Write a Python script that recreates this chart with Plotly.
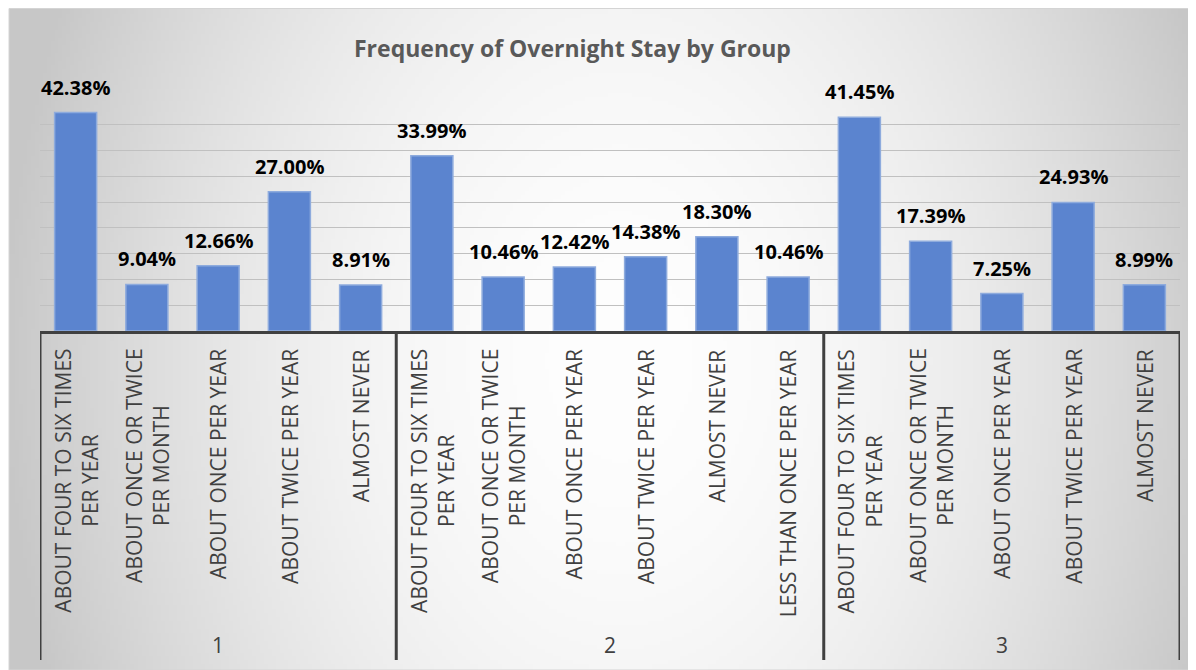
import base64
import struct
import zlib

import numpy as np
import plotly.graph_objects as go

groups = ["1", "2", "3"]
group_categories = [
    ["ABOUT FOUR TO SIX TIMES<br>PER YEAR", "ABOUT ONCE OR TWICE<br>PER MONTH",
     "ABOUT ONCE PER YEAR", "ABOUT TWICE PER YEAR", "ALMOST NEVER"],
    ["ABOUT FOUR TO SIX TIMES<br>PER YEAR", "ABOUT ONCE OR TWICE<br>PER MONTH",
     "ABOUT ONCE PER YEAR", "ABOUT TWICE PER YEAR", "ALMOST NEVER",
     "LESS THAN ONCE PER YEAR"],
    ["ABOUT FOUR TO SIX TIMES<br>PER YEAR", "ABOUT ONCE OR TWICE<br>PER MONTH",
     "ABOUT ONCE PER YEAR", "ABOUT TWICE PER YEAR", "ALMOST NEVER"],
]
group_values = [
    [42.38, 9.04, 12.66, 27.00, 8.91],
    [33.99, 10.46, 12.42, 14.38, 18.30, 10.46],
    [41.45, 17.39, 7.25, 24.93, 8.99],
]

# the page has an 8px body margin, so the figure is 8px smaller than the window
OFF = 8
W, H = 1188, 662
L, R, T, B = 32, 16, 91, 339
PH = H - T - B
PW = W - L - R


def py(y):
    # page pixel row -> paper y
    return (H - B - (y - OFF)) / PH


def px(x):
    return (x - OFF - L) / PW


def gray_png(arr):
    h, w = arr.shape
    raw = b"".join(b"\x00" + arr[r].tobytes() for r in range(h))

    def chunk(tag, data):
        c = struct.pack(">I", len(data)) + tag + data
        return c + struct.pack(">I", zlib.crc32(tag + data) & 0xffffffff)

    png = b"\x89PNG\r\n\x1a\n"
    png += chunk(b"IHDR", struct.pack(">IIBBBBB", w, h, 8, 0, 0, 0, 0))
    png += chunk(b"IDAT", zlib.compress(raw, 9))
    png += chunk(b"IEND", b"")
    return "data:image/png;base64," + base64.b64encode(png).decode()


# radial background of the chart frame (page coords)
fx0, fy0, fx1, fy1 = 9, 8, 1196, 670
gw, gh = 300, 168
xs = fx0 + (np.arange(gw) + 0.5) * (fx1 - fx0) / gw
ys = fy0 + (np.arange(gh) + 0.5) * (fy1 - fy0) / gh
XX, YY = np.meshgrid(xs, ys)
d = np.clip(np.hypot((XX - 620) / 620, (YY - 360) / 860), 0, 1)
bg = (254 - (254 - 199) * d ** 1.9).astype(np.uint8)

labels, values, centers = [], [], []
i = 0
for cats, vals in zip(group_categories, group_values):
    start = i
    for c, v in zip(cats, vals):
        labels.append(c)
        values.append(v)
        i += 1
    centers.append((start + i - 1) / 2)
xi = list(range(len(values)))

fig = go.Figure()
fig.add_trace(go.Bar(
    x=xi, y=values,
    marker=dict(color="#5b84cf", line=dict(color="#8eabdd", width=1.5)),
    hoverinfo="y",
))

ann = []
for x, v in zip(xi, values):
    ann.append(dict(x=x, y=v, xref="x", yref="y", text="{:.2f}%".format(v),
                    showarrow=False, yanchor="bottom", yshift=10,
                    font=dict(family="Open Sans", size=20, color="#000000",
                              weight="bold")))
for x, c in zip(xi, labels):
    ann.append(dict(x=x, y=py(347), xref="x", yref="paper", text=c,
                    showarrow=False, textangle=-90, yanchor="top",
                    align="center",
                    font=dict(family="Open Sans", size=21, color="#404040")))
for x, g in zip(centers, groups):
    ann.append(dict(x=x, y=py(645), xref="x", yref="paper", text=g,
                    showarrow=False, yanchor="middle",
                    font=dict(family="Open Sans", size=21, color="#404040")))
ann.append(dict(x=px(572), y=py(48), xref="paper", yref="paper",
                text="<b>Frequency of Overnight Stay by Group</b>",
                showarrow=False, yanchor="middle",
                font=dict(family="Open Sans", size=23, color="#595959")))

shapes = [dict(type="rect", xref="paper", yref="paper",
               x0=px(fx0), x1=px(fx1 - 0.5), y0=py(fy1), y1=py(fy0 + 0.5),
               line=dict(color="#d4d4d4", width=1), layer="below")]
seps = [-0.5]
n = 0
for vals in group_values:
    n += len(vals)
    seps.append(n - 0.5)
for s in seps:
    shapes.append(dict(type="line", xref="x", yref="paper", x0=s, x1=s,
                       y0=0, y1=py(660), line=dict(color="#404040", width=3)))

fig.update_layout(
    width=W, height=H,
    margin=dict(l=L, r=R, t=T, b=B),
    paper_bgcolor="white",
    plot_bgcolor="rgba(0,0,0,0)",
    bargap=0.41,
    showlegend=False,
    annotations=ann,
    shapes=shapes,
    images=[dict(source=gray_png(bg), xref="paper", yref="paper",
                 x=px(fx0), y=py(fy0), sizex=(fx1 - fx0) / PW,
                 sizey=(fy1 - fy0) / PH, sizing="stretch",
                 xanchor="left", yanchor="top", layer="below")],
)
fig.update_xaxes(range=[-0.5, len(values) - 0.5], showticklabels=False,
                 showgrid=False, zeroline=False, showline=True,
                 linecolor="#404040", linewidth=3, ticks="")
fig.update_yaxes(range=[0, 45], dtick=5, showticklabels=False,
                 showgrid=True, gridcolor="#c0c0c0", gridwidth=1,
                 zeroline=False, showline=False)

fig.write_html("out.html")
